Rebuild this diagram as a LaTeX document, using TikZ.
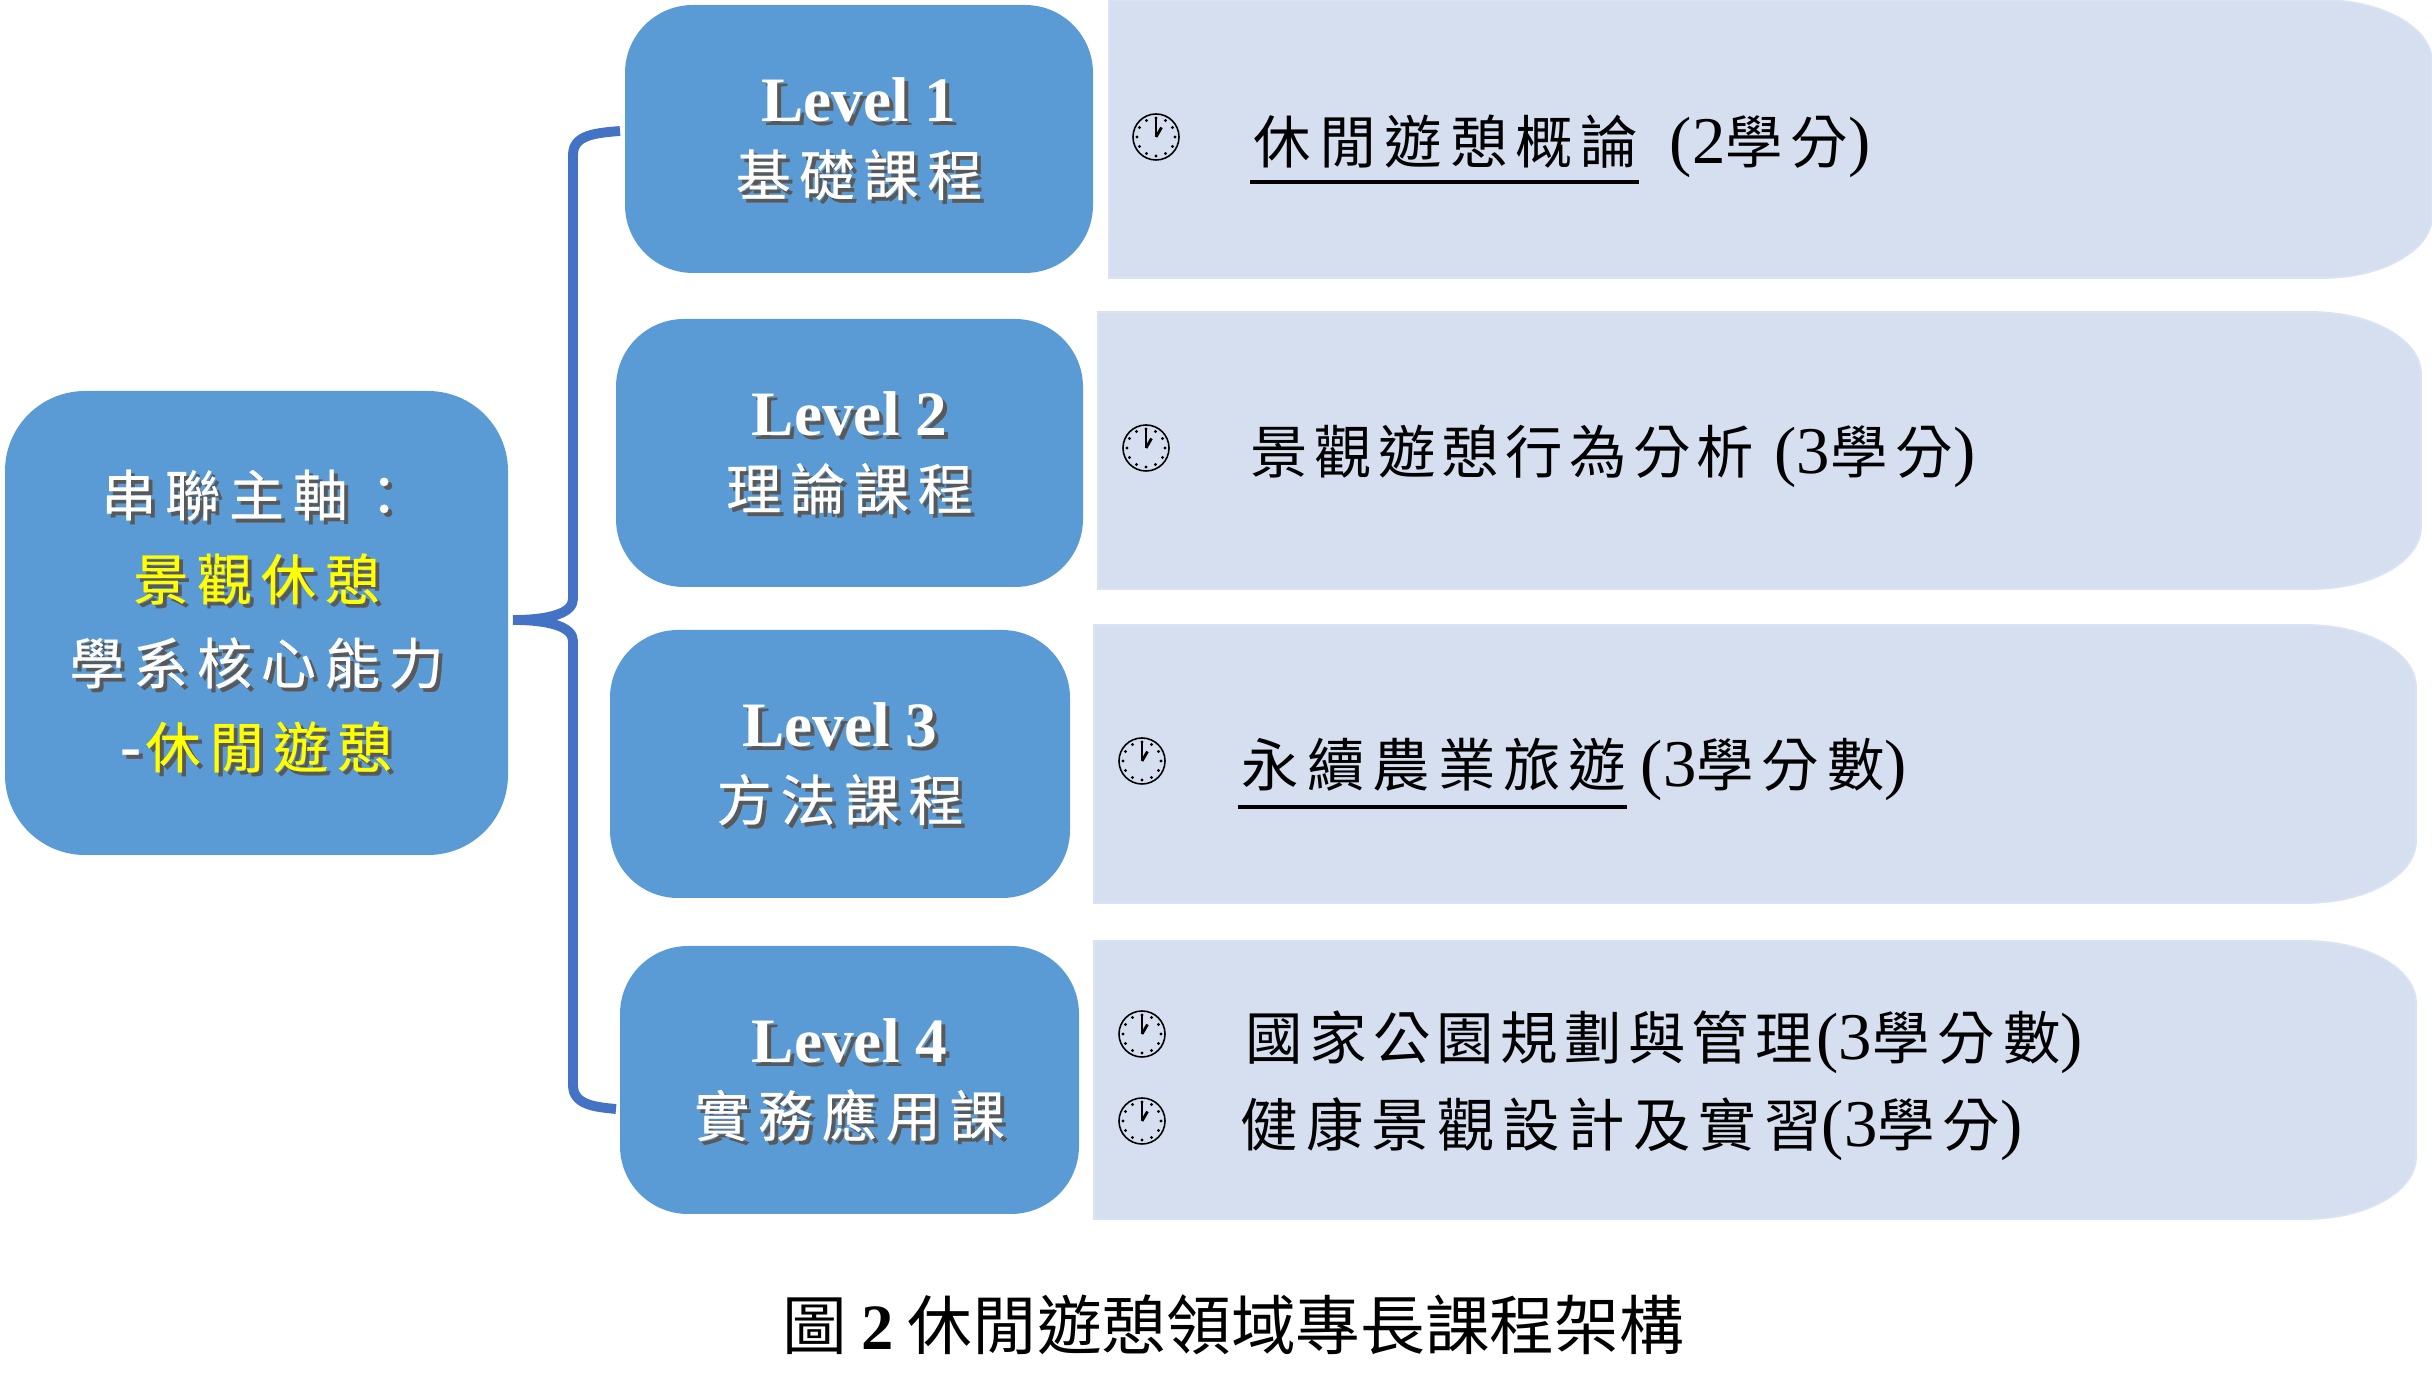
\documentclass[tikz,border=0pt]{standalone}
\usepackage{fontspec}
\usepackage{xcolor}
\setmainfont{Liberation Serif}
\newfontfamily\cjk[LetterSpace=16,Scale=.87,FakeBold=.4]{Noto Sans CJK TC}
\newfontfamily\cjkwide[LetterSpace=14,Scale=.86]{Noto Sans CJK TC}
\newfontfamily\cjknarrow[LetterSpace=11,Scale=.86]{Noto Sans CJK TC}
\newfontfamily\cjktitle{Noto Sans CJK TC}
\usetikzlibrary{positioning,calc}
\definecolor{boxblue}{HTML}{5B9BD5}
\definecolor{panelblue}{HTML}{D6DFF0}
\definecolor{panelline}{HTML}{DAE3F3}
\definecolor{braceblue}{HTML}{4472C4}
\definecolor{labelyellow}{HTML}{FFFF00}
\newcommand{\shadowed}[2][white]{\leavevmode\rlap{\kern1.1pt\raisebox{-1.1pt}{\textcolor{black!65}{#2}}}\textcolor{#1}{#2}}
\newcommand{\levelstrut}{\rule{0pt}{13.6pt}}
\newcommand{\axisstrut}{\rule{0pt}{13pt}}

\begin{document}
\begin{tikzpicture}
        [
    basic/.style={text centered, inner sep=0pt},
    levelbox/.style={basic, fill=boxblue, rounded corners=.68cm, minimum height=2.68cm, align=center, font=\fontsize{18}{21}\selectfont},
    mainbox/.style={basic, fill=boxblue, rounded corners=.8cm, minimum width=5.03cm, minimum height=4.64cm, align=center, font=\fontsize{18}{23.9}\selectfont\cjk},
    panel/.style={fill=panelblue, draw=panelline, line width=.5pt},
    coursetext/.style={inner sep=0pt, anchor=base west, font=\fontsize{19}{19}\selectfont},
    courseline/.style={line width=.9pt},
    braceline/.style={draw=braceblue, line width=2.8pt},
    clockicon/.pic={
        \draw [line width=.45pt] (0,0) circle (.23);
        \foreach \a in {0,30,...,330} {\fill (\a:.19) circle (.016);}
        \draw [line width=.8pt] (0,0) -- (0,.18);
        \draw [line width=.8pt] (0,0) -- (60:.11);
    }
    ]
    \useasboundingbox (0,0) rectangle (24.32,13.85);

    % Paneles de cursos
    \draw [panel] (11.09,13.85) -- (23.22,13.85) arc[start angle=90, end angle=0, x radius=1.1, y radius=.62] -- (24.32,11.69) arc[start angle=0, end angle=-90, x radius=1.1, y radius=.62] -- (11.09,11.07) -- cycle;
    \draw [panel] (10.98,10.73) -- (23.11,10.73) arc[start angle=90, end angle=0, x radius=1.1, y radius=.62] -- (24.21,8.58) arc[start angle=0, end angle=-90, x radius=1.1, y radius=.62] -- (10.98,7.96) -- cycle;
    \draw [panel] (10.94,7.60) -- (23.06,7.60) arc[start angle=90, end angle=0, x radius=1.1, y radius=.62] -- (24.16,5.44) arc[start angle=0, end angle=-90, x radius=1.1, y radius=.62] -- (10.94,4.82) -- cycle;
    \draw [panel] (10.94,4.44) -- (23.06,4.44) arc[start angle=90, end angle=0, x radius=1.1, y radius=.62] -- (24.16,2.28) arc[start angle=0, end angle=-90, x radius=1.1, y radius=.62] -- (10.94,1.66) -- cycle;

    % Caja del eje
    \node [mainbox] (axis) at (2.565,7.62) {\axisstrut\shadowed{串聯主軸：}\\\shadowed[labelyellow]{景觀休憩}\\\shadowed{學系核心能力}\\{\normalfont\bfseries\shadowed{-}}\kern1pt\shadowed[labelyellow]{休閒遊憩}};

    % Cajas de niveles
    \node [levelbox, minimum width=4.68cm] (lv1) at (8.59,12.46) {\levelstrut\shadowed{\bfseries Level 1}\\\cjk\shadowed{基礎課程}};
    \node [levelbox, minimum width=4.67cm] (lv2) at (8.495,9.32) {\levelstrut\shadowed{\bfseries Level 2}\\\cjk\shadowed{理論課程}};
    \node [levelbox, minimum width=4.60cm] (lv3) at (8.40,6.21) {\levelstrut\shadowed{\bfseries Level 3}\\\cjk\shadowed{方法課程}};
    \node [levelbox, minimum width=4.59cm] (lv4) at (8.495,3.05) {\levelstrut\shadowed{\bfseries Level 4}\\\cjk\shadowed{實務應用課}};

    % Llave
    \coordinate (bracetop) at (6.20,12.54);
    \coordinate (bracebot) at (6.16,2.76);
    \coordinate (bracetip) at (5.13,7.65);
    \draw [braceline] (bracetop) .. controls (5.95,12.52) and (5.73,12.50) .. (5.73,12.30) -- (5.73,7.86) .. controls (5.73,7.72) and (5.5,7.65) .. (bracetip);
    \draw [braceline] (bracebot) .. controls (5.95,2.78) and (5.73,2.80) .. (5.73,3.00) -- (5.73,7.44) .. controls (5.73,7.58) and (5.5,7.65) .. (bracetip);

    % Relojes
    \pic (clock1) at (11.56,12.48) {clockicon};
    \pic (clock2) at (11.46,9.37) {clockicon};
    \pic (clock3) at (11.42,6.24) {clockicon};
    \pic (clock4) at (11.42,3.51) {clockicon};
    \pic (clock5) at (11.42,2.64) {clockicon};

    % Cursos
    \node [coursetext] (course1) at (12.53,12.21) {\cjkwide 休閒遊憩概論};
    \node [coursetext] (credit1) at ($(course1.base east)+(.30,0)$) {(2{\cjkwide 學分})};
    \draw [courseline] ($(course1.base west)+(-.03,-.18)$) -- ($(course1.base east)+(0,-.18)$);
    \node [coursetext] (course2) at (12.50,9.11) {{\cjknarrow 景觀遊憩行為分析} \kern1pt(3{\cjkwide 學分})};
    \node [coursetext] (course3) at (12.41,5.98) {\cjkwide 永續農業旅遊};
    \node [coursetext] (credit3) at ($(course3.base east)+(.13,0)$) {(3{\cjkwide 學分數})};
    \draw [courseline] ($(course3.base west)+(-.03,-.2)$) -- ($(course3.base east)+(0,-.2)$);
    \node [coursetext] (course4) at (12.45,3.25) {{\cjknarrow 國家公園規劃與管理}\kern1pt(3{\cjkwide 學分數})};
    \node [coursetext] (course5) at (12.40,2.38) {{\cjkwide 健康景觀設計及實習}(3{\cjkwide 學分})};

    % Titulo
    \node [inner sep=0pt, anchor=base, font=\fontsize{18.4}{18.4}\selectfont] (caption) at (12.33,.35) {\cjktitle 圖 {\normalfont\bfseries 2} 休閒遊憩領域專長課程架構};
\end{tikzpicture}
\end{document}
